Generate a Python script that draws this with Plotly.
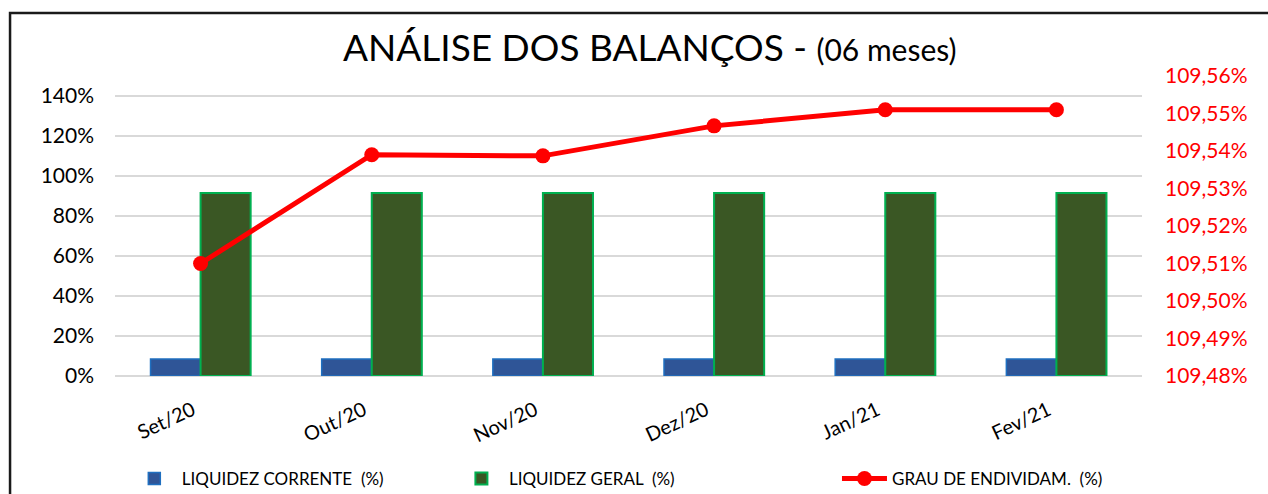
import plotly.graph_objects as go

categories = ["Set/20", "Out/20", "Nov/20", "Dez/20", "Jan/21", "Fev/21"]
liquidez_corrente = [0.085, 0.085, 0.085, 0.085, 0.085, 0.085]
liquidez_geral = [0.915, 0.915, 0.915, 0.915, 0.915, 0.915]
grau_endividamento = [1.09510, 1.09539, 1.095387, 1.095467, 1.09551, 1.09551]

FONT = "Lato"

fig = go.Figure()
fig.add_trace(go.Bar(
    x=categories, y=liquidez_corrente, name="LIQUIDEZ CORRENTE  (%)",
    marker=dict(color="#2F5597", line=dict(color="#1F6FC0", width=1.5)),
    legend="legend",
))
fig.add_trace(go.Bar(
    x=categories, y=liquidez_geral, name="LIQUIDEZ GERAL  (%)",
    marker=dict(color="#3A5724", line=dict(color="#00B050", width=2)),
    legend="legend2",
))
fig.add_trace(go.Scatter(
    x=categories, y=grau_endividamento, name="GRAU DE ENDIVIDAM.  (%)",
    mode="lines+markers", yaxis="y2",
    line=dict(color="#FF0000", width=5),
    marker=dict(color="#FF0000", size=15),
    legend="legend3",
))

legend_common = dict(orientation="h", yanchor="middle", xanchor="left",
                     font=dict(family=FONT, size=17, color="#000000"),
                     bgcolor="rgba(0,0,0,0)", itemwidth=45)

fig.update_layout(
    width=1268, height=494,
    margin=dict(l=115, r=126, t=76, b=118, autoexpand=False),
    paper_bgcolor="white", plot_bgcolor="white",
    separators=",.",
    barmode="group", bargap=0.415, bargroupgap=0,
    font=dict(family=FONT, color="#000000"),
    xaxis=dict(
        type="category", tickangle=-25, showgrid=False, showline=False,
        tickfont=dict(family=FONT, size=20, color="#000000"),
        ticks="", ticklabelstandoff=18, ticklabelshift=-8, automargin=False,
    ),
    yaxis=dict(
        range=[0, 1.5], dtick=0.2, tickformat=".0%",
        showgrid=True, gridcolor="#D9D9D9", gridwidth=1.5,
        zeroline=True, zerolinecolor="#D9D9D9", zerolinewidth=1.5,
        tickfont=dict(family=FONT, size=21, color="#000000"),
        ticks="", ticklabelstandoff=20, automargin=False,
    ),
    yaxis2=dict(
        overlaying="y", side="right",
        range=[1.0948, 1.0956], dtick=0.0001, tickformat=".2%",
        showgrid=False, zeroline=False,
        tickfont=dict(family=FONT, size=21, color="#FF0000"),
        ticks="", ticklabelstandoff=22, automargin=False,
    ),
    legend=dict(x=0.0115, y=-0.343, **legend_common),
    legend2=dict(x=0.330, y=-0.343, **legend_common),
    legend3=dict(x=0.703, y=-0.343, **legend_common),
    showlegend=True,
    annotations=[dict(
        text="ANÁLISE DOS BALANÇOS - <span style='font-size:30px'>(06 meses)</span>",
        xref="paper", yref="paper", x=0.521, y=1.097,
        xanchor="center", yanchor="middle", showarrow=False,
        font=dict(family=FONT, size=37, color="#000000"),
    )],
    shapes=[dict(
        type="rect", xref="paper", yref="paper",
        x0=-0.1022, x1=1.14, y0=-0.45, y1=1.21,
        line=dict(color="#1A1A1A", width=2.5), fillcolor="rgba(0,0,0,0)",
        layer="below",
    )],
)

fig.write_html(
    "out.html",
    config={"displayModeBar": False},
    post_script="document.body.style.margin='0';document.body.style.overflow='hidden';",
)
